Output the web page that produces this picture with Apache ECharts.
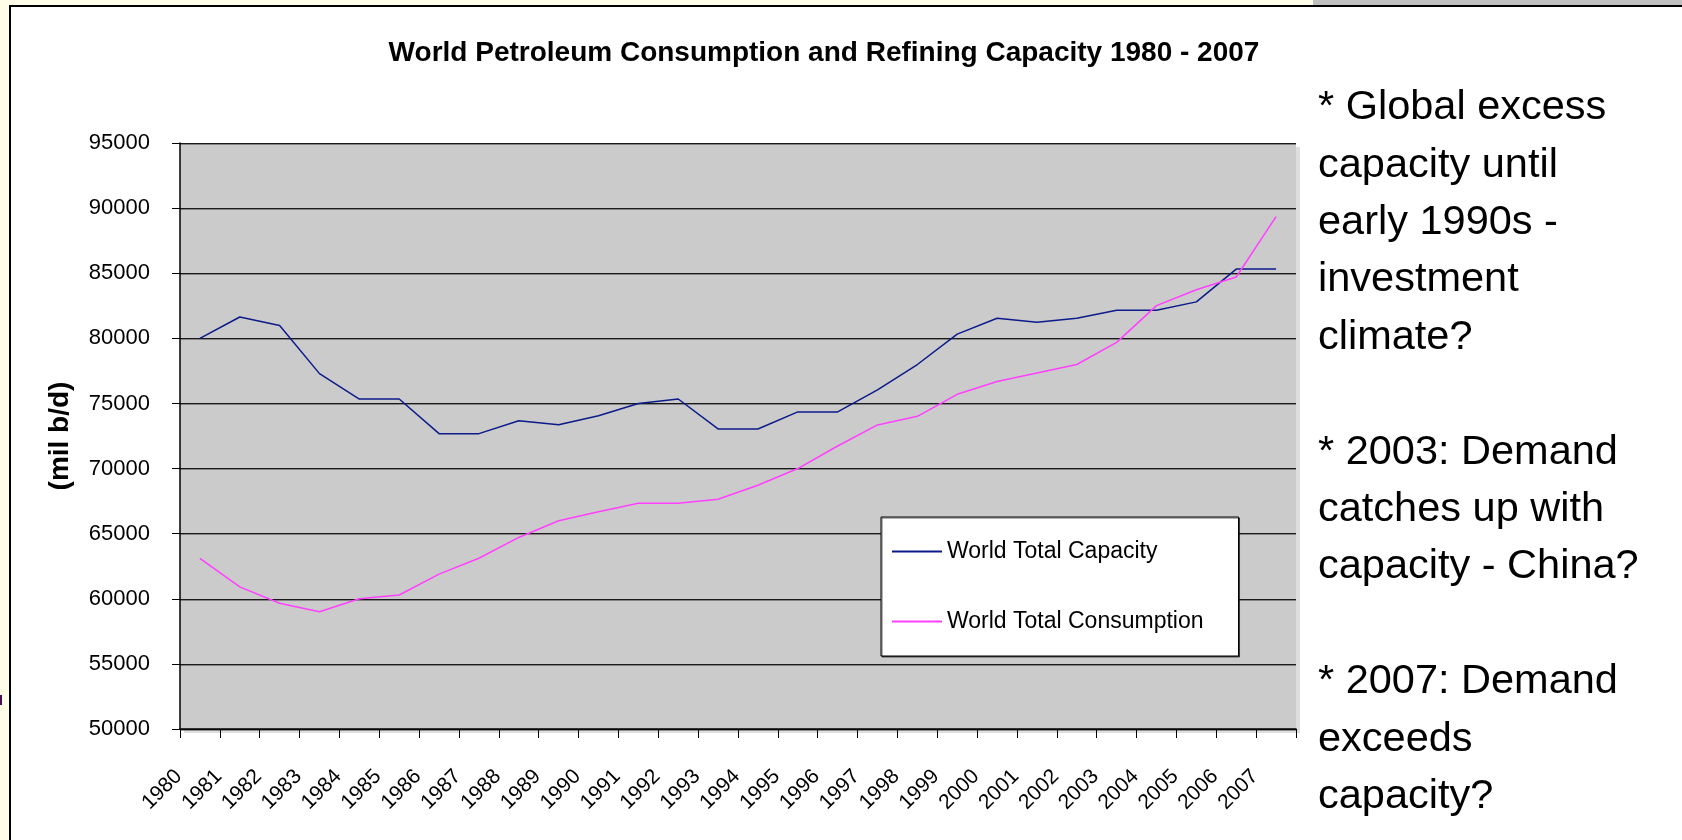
<!DOCTYPE html>
<html>
<head>
<meta charset="utf-8">
<script src="https://cdn.jsdelivr.net/npm/echarts@6/dist/echarts.min.js"></script>
<style>
  html, body { margin: 0; padding: 0; }
  #chart { width: 1682px; height: 840px; }
</style>
</head>
<body>
<div id="chart"></div>
<script>
var years = ['1980', '1981', '1982', '1983', '1984', '1985', '1986', '1987', '1988', '1989',
  '1990', '1991', '1992', '1993', '1994', '1995', '1996', '1997', '1998', '1999',
  '2000', '2001', '2002', '2003', '2004', '2005', '2006', '2007'];

var capacity = [80000, 81640, 80990, 77290, 75340, 75340, 72680, 72680, 73670, 73360,
  74060, 75000, 75340, 73040, 73040, 74350, 74350, 76040, 77990, 80320,
  81540, 81240, 81540, 82150, 82150, 82800, 85320, 85320];

var consumption = [63110, 60910, 59660, 59010, 60000, 60290, 61890, 63110, 64710, 65990,
  66690, 67340, 67340, 67640, 68720, 70000, 71730, 73350, 74010, 75700,
  76690, 77340, 77990, 79690, 82510, 83730, 84710, 89340];

var notes = [
  '* Global excess', 'capacity until', 'early 1990s -', 'investment', 'climate?', '',
  '* 2003: Demand', 'catches up with', 'capacity - China?', '',
  '* 2007: Demand', 'exceeds', 'capacity?'
];

var font = '"Liberation Sans", Arial, sans-serif';

var chart = echarts.init(document.getElementById('chart'));
chart.setOption({
  backgroundColor: '#fffde8',
  animation: false,
  textStyle: { fontFamily: font },
  graphic: [
    // slide frame
    { type: 'rect', z: -10, shape: { x: 10, y: 6, width: 1700, height: 900 },
      style: { fill: '#fff', stroke: '#000', lineWidth: 2 } },
    { type: 'rect', z: -10, shape: { x: 1313, y: 0, width: 369, height: 5 },
      style: { fill: '#c0c0c0' } },
    { type: 'rect', z: -10, shape: { x: 0, y: 695, width: 2, height: 10 },
      style: { fill: '#4b0f4b' } },
    { type: 'text', left: 1318, top: 79,
      style: { text: notes.join('\n'), font: '41.5px ' + font, fill: '#000', lineHeight: 57.4 } }
  ],
  title: {
    text: 'World Petroleum Consumption and Refining Capacity 1980 - 2007',
    left: 819, top: 34, textAlign: 'center',
    textStyle: { fontFamily: font, fontSize: 28, fontWeight: 'bold', color: '#000' }
  },
  legend: {
    orient: 'vertical',
    left: 881, top: 517,
    padding: [23, 35, 23, 11],
    itemGap: 47,
    itemWidth: 50, itemHeight: 2,
    icon: 'rect',
    backgroundColor: '#fff',
    borderColor: '#000', borderWidth: 1,
    shadowColor: 'rgba(0,0,0,0.6)', shadowOffsetX: 1, shadowOffsetY: 1,
    textStyle: { fontFamily: font, fontSize: 23, color: '#000' },
    data: ['World Total Capacity', 'World Total Consumption']
  },
  grid: {
    left: 180, top: 143, right: 386, bottom: 111,
    show: true, backgroundColor: '#cbcbcb', borderWidth: 0,
    shadowColor: '#dedede', shadowOffsetX: 4, shadowOffsetY: 4
  },
  xAxis: {
    type: 'category',
    data: years,
    boundaryGap: true,
    axisLine: { lineStyle: { color: '#000', width: 1.5 } },
    axisTick: { show: true, interval: 0, length: 9, lineStyle: { color: '#000' } },
    axisLabel: {
      interval: 0, rotate: 45, margin: 23, padding: [0, 30, 0, 0],
      fontFamily: font, fontSize: 21, color: '#000'
    },
    splitLine: { show: false }
  },
  yAxis: {
    type: 'value',
    min: 50000, max: 95000, interval: 5000,
    name: '(mil b/d)',
    nameLocation: 'middle',
    nameGap: 106,
    nameRotate: 90,
    nameTextStyle: { fontFamily: font, fontSize: 28, fontWeight: 'bold', color: '#000' },
    axisLine: { show: true, lineStyle: { color: '#000', width: 1.5 } },
    axisTick: { show: true, length: 8, lineStyle: { color: '#000' } },
    axisLabel: {
      margin: 30, fontFamily: font, fontSize: 22, color: '#000',
      formatter: function (v) { return String(v); }
    },
    splitLine: {
      lineStyle: { color: '#1a1a1a', width: 1, shadowColor: 'rgba(0,0,0,0.35)', shadowOffsetY: 1 }
    }
  },
  series: [
    {
      name: 'World Total Capacity', type: 'line', data: capacity,
      showSymbol: false, symbol: 'none',
      color: '#0c1a8a',
      lineStyle: { color: '#0c1a8a', width: 1.5 }
    },
    {
      name: 'World Total Consumption', type: 'line', data: consumption,
      showSymbol: false, symbol: 'none',
      color: '#ff40ff',
      lineStyle: { color: '#ff40ff', width: 1.5 }
    }
  ]
});
</script>
</body>
</html>
